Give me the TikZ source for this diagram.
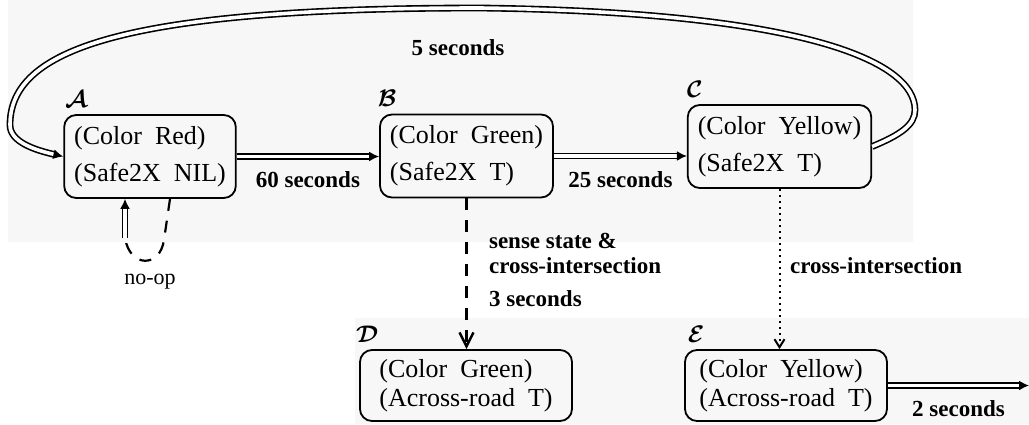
\documentclass[tikz,border=0pt]{standalone}
\usepackage{fontspec}
\setmainfont{Liberation Serif}
\usetikzlibrary{arrows.meta, calc}

\begin{document}
\begin{tikzpicture}[x=0.5pt, y=-0.5pt,
state/.style={draw, line width=0.9pt, rounded corners=6pt, align=left, inner xsep=5pt, minimum height=41.5pt, font=\fontsize{13}{18.5}\selectfont},
lowstate/.style={state, minimum height=35.5pt, font=\fontsize{13}{14.5}\selectfont},
tag/.style={font=\fontsize{12}{12}\selectfont\boldmath},
lbl/.style={font=\fontsize{11.5}{12.5}\selectfont\bfseries, align=left},
dbl/.style={double, line width=0.8pt, double distance=1.8pt, -{Latex[length=5pt, width=5pt]}}]
\useasboundingbox (0,0) rectangle (1029,424);
\fill[black!3] (8,0) rectangle (913,242);
\fill[black!3] (355,318) rectangle (1029,424);
% states
\node[state, minimum width=80pt] (A) at (150,156.5) {(Color~ Red)\\(Safe2X~ NIL)};
\node[state, minimum width=83.5pt] (B) at (466.5,156) {(Color~ Green)\\(Safe2X~ T)};
\node[state, minimum width=88.5pt] (C) at (779.5,146.5) {(Color~ Yellow)\\(Safe2X~ T)};
\node[lowstate, minimum width=106pt] (D) at (466,385.5) {(Color~ Green)\\(Across-road~ T)};
\node[lowstate, minimum width=101pt] (E) at (786,385.5) {(Color~ Yellow)\\(Across-road~ T)};
\node[tag] (tA) at ($(A.north west)+(13,-15)$) {$\mathcal{A}$};
\node[tag] (tB) at ($(B.north west)+(8,-15)$) {$\mathcal{B}$};
\node[tag] (tC) at ($(C.north west)+(8,-15)$) {$\mathcal{C}$};
\node[tag] (tD) at ($(D.north west)+(8,-15)$) {$\mathcal{D}$};
\node[tag] (tE) at ($(E.north west)+(12,-15)$) {$\mathcal{E}$};
% timed transitions
\draw[dbl] (A) -- (A -| B.west) node[lbl, midway, below=4pt] (l60) {60 seconds};
\draw[dbl] (B) -- (B -| C.west) node[lbl, midway, below=4pt] (l25) {25 seconds};
\draw[dbl] (C.east) .. controls (900,135) and (915,125) .. (915,110) .. controls (915,60) and (800,12) .. (480,8)
  .. controls (120,8) and (10,50) .. (10,125) .. controls (10,142) and (35,150) .. (A.west);
\node[lbl] (l5) at (458,48) {5 seconds};
\coordinate (out) at (1029,385);
\draw[dbl] (E) -- (E -| out) node[lbl, midway, below=4pt] (l2) {2 seconds};
% sensed transitions
\draw[line width=1.2pt, dash pattern=on 6pt off 5pt, -{Straight Barb[length=7pt, width=7pt]}] (B) -- (B |- D.north);
\node[lbl, anchor=west] (lsense) at (482,253) {sense state \&\\cross-intersection};
\node[lbl, anchor=west] (l3) at (482,299) {3 seconds};
\draw[line width=1pt, dotted, -{Straight Barb[length=4pt, width=5pt]}] (C) -- (C |- E.north);
\node[lbl, anchor=west] (lcross) at (783,266) {cross-intersection};
% no-op loop
\coordinate (nopend) at (125,238);
\draw[line width=1.1pt, dash pattern=on 6pt off 5pt] ($(A.south)+(20,0)$) -- (164,240) .. controls (160,268) and (130,268) .. (nopend);
\draw[dbl] (nopend) -- (nopend |- A.south);
\node[font=\fontsize{11}{12}\selectfont] (lnop) at (150,282) {no-op};
\end{tikzpicture}
\end{document}
